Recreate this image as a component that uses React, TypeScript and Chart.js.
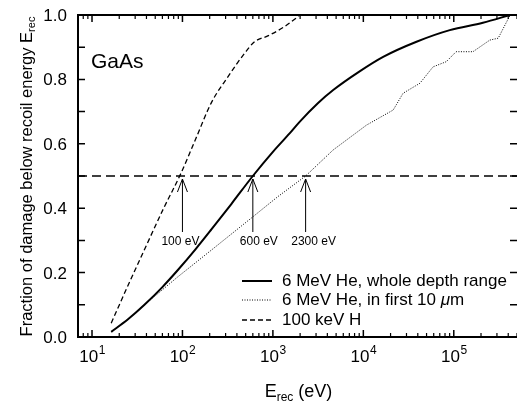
import React, { useEffect, useRef } from 'react';
import { Chart, registerables } from 'chart.js';

Chart.register(...registerables);

// 100 keV H
const hEnergy = [16.3, 25, 40, 62, 95, 140, 209, 318, 486, 627, 878, 1346, 2000];
const hFraction = [0.043, 0.16, 0.285, 0.4, 0.505, 0.615, 0.728, 0.808, 0.881, 0.917, 0.935, 0.964, 1.0];

// 6 MeV He, whole depth range
const heWholeEnergy = [16.3, 25, 38, 60, 89, 140, 209, 347, 600, 1000, 1540, 1986, 3140, 4643, 9100, 16560, 38700, 90300, 210000, 420000];
const heWholeFraction = [0.016, 0.055, 0.1, 0.155, 0.208, 0.273, 0.334, 0.413, 0.5, 0.575, 0.633, 0.669, 0.726, 0.767, 0.825, 0.87, 0.917, 0.953, 0.976, 1.0];

// 6 MeV He, in first 10 um
const heSurfEnergy = [16.3, 25, 38, 89, 209, 575, 1135, 2300, 4643, 10830, 21400, 27500, 42200, 59000, 82600, 106000, 163000, 250000, 310000, 420000];
const heSurfFraction = [0.016, 0.055, 0.1, 0.187, 0.27, 0.369, 0.436, 0.5, 0.581, 0.658, 0.705, 0.757, 0.788, 0.839, 0.855, 0.886, 0.886, 0.922, 0.928, 1.0];

const refLineEnergy = [7, 500000];
const refLineFraction = [0.5, 0.5];

const xMin = 7;
const xMax = 500000;
const xTickValues = [10, 100, 1000, 10000, 100000];
const xTickExponents = ['1', '2', '3', '4', '5'];
const yTickValues = [0, 0.2, 0.4, 0.6, 0.8, 1.0];
const yTickLabels = ['0.0', '0.2', '0.4', '0.6', '0.8', '1.0'];
const yMinorValues = [0, 0.1, 0.2, 0.3, 0.4, 0.5, 0.6, 0.7, 0.8, 0.9, 1.0];

const arrowEnergies = [100, 600, 2300];
const arrowLabels = ['100 eV', '600 eV', '2300 eV'];
const arrowLabelOffsets = [-2, 6, 8];

const legendLabels = ['6 MeV He, whole depth range', '6 MeV He, in first 10 ', '100 keV H'];

const FONT = '"Liberation Sans", Arial, Helvetica, sans-serif';

const toPoints = (xs: number[], ys: number[]) => xs.map((x, i) => ({ x, y: ys[i] }));

const overlay = {
  id: 'overlay',
  afterDatasetsDraw(chart: any) {
    const ctx = chart.ctx as CanvasRenderingContext2D;
    const xs = chart.scales.x;
    const ys = chart.scales.y;
    const { left, top, bottom } = chart.chartArea;
    const right = chart.chartArea.right;
    ctx.save();
    ctx.strokeStyle = '#000';
    ctx.fillStyle = '#000';

    // frame
    ctx.lineWidth = 2;
    ctx.beginPath();
    ctx.moveTo(right + 3, top);
    ctx.lineTo(left, top);
    ctx.lineTo(left, bottom);
    ctx.lineTo(right + 3, bottom);
    ctx.stroke();

    // y ticks (inward, both sides)
    ctx.lineWidth = 1.5;
    for (const v of yMinorValues) {
      const y = ys.getPixelForValue(v);
      ctx.beginPath();
      ctx.moveTo(left, y);
      ctx.lineTo(left + 7, y);
      ctx.moveTo(right, y);
      ctx.lineTo(right - 7, y);
      ctx.stroke();
    }

    // x ticks (log, inward, top and bottom)
    for (let d = 0; d <= 6; d++) {
      for (let m = 1; m <= 9; m++) {
        const v = m * Math.pow(10, d);
        if (v < xMin || v > xMax) continue;
        const x = xs.getPixelForValue(v);
        const len = m === 1 ? 7 : 4;
        ctx.lineWidth = m === 1 ? 1.5 : 1.2;
        ctx.beginPath();
        ctx.moveTo(x, bottom);
        ctx.lineTo(x, bottom - len);
        ctx.moveTo(x, top);
        ctx.lineTo(x, top + len);
        ctx.stroke();
      }
    }

    // y tick labels
    ctx.font = `17px ${FONT}`;
    ctx.textAlign = 'right';
    ctx.textBaseline = 'alphabetic';
    yTickValues.forEach((v, i) => {
      const y = ys.getPixelForValue(v);
      ctx.fillText(yTickLabels[i], 67, y + 6);
    });

    // x tick labels 10^n
    ctx.textAlign = 'left';
    xTickValues.forEach((v, i) => {
      const x = xs.getPixelForValue(v);
      ctx.font = `17px ${FONT}`;
      const wb = ctx.measureText('10').width;
      ctx.font = `12px ${FONT}`;
      const we = ctx.measureText(xTickExponents[i]).width;
      const start = x - (wb + we) / 2;
      ctx.font = `17px ${FONT}`;
      ctx.fillText('10', start, 362);
      ctx.font = `12px ${FONT}`;
      ctx.fillText(xTickExponents[i], start + wb + 0.5, 354);
    });

    // x title
    {
      ctx.font = `18px ${FONT}`;
      const wE = ctx.measureText('E').width;
      const wRest = ctx.measureText(' (eV)').width;
      ctx.font = `12px ${FONT}`;
      const wSub = ctx.measureText('rec').width;
      const total = wE + wSub + wRest;
      const cx = (left + right) / 2 + 1;
      let sx = cx - total / 2;
      ctx.font = `18px ${FONT}`;
      ctx.fillText('E', sx, 397);
      sx += wE;
      ctx.font = `12px ${FONT}`;
      ctx.fillText('rec', sx, 401);
      sx += wSub;
      ctx.font = `18px ${FONT}`;
      ctx.fillText(' (eV)', sx, 397);
    }

    // y title
    {
      ctx.save();
      ctx.translate(32, 176.5);
      ctx.rotate(-Math.PI / 2);
      const main = 'Fraction of damage below recoil energy E';
      ctx.font = `16.5px ${FONT}`;
      const wm = ctx.measureText(main).width;
      ctx.font = `11px ${FONT}`;
      const ws = ctx.measureText('rec').width;
      const total = wm + ws;
      ctx.font = `16.5px ${FONT}`;
      ctx.fillText(main, -total / 2, 0);
      ctx.font = `11px ${FONT}`;
      ctx.fillText('rec', -total / 2 + wm, 3);
      ctx.restore();
    }

    // GaAs label
    ctx.font = `21px ${FONT}`;
    ctx.textAlign = 'left';
    ctx.fillText('GaAs', 91, 68);

    // arrows
    const yHalf = ys.getPixelForValue(0.5);
    ctx.lineWidth = 1;
    arrowEnergies.forEach((e, i) => {
      const x = xs.getPixelForValue(e);
      const tip = yHalf + 3;
      ctx.beginPath();
      ctx.moveTo(x, 232);
      ctx.lineTo(x, tip);
      ctx.moveTo(x - 5, tip + 13);
      ctx.lineTo(x, tip);
      ctx.lineTo(x + 5, tip + 13);
      ctx.stroke();
      ctx.font = `12px ${FONT}`;
      ctx.textAlign = 'center';
      ctx.fillText(arrowLabels[i], x + arrowLabelOffsets[i], 245);
    });

    // legend
    const rows = [281, 300, 320];
    const styles: { dash: number[]; width: number }[] = [
      { dash: [], width: 2 },
      { dash: [1, 1.5], width: 1 },
      { dash: [5, 3], width: 1.3 },
    ];
    rows.forEach((ry, i) => {
      ctx.save();
      ctx.setLineDash(styles[i].dash);
      ctx.lineWidth = styles[i].width;
      ctx.beginPath();
      ctx.moveTo(242, ry);
      ctx.lineTo(272, ry);
      ctx.stroke();
      ctx.restore();
      ctx.font = `17px ${FONT}`;
      ctx.textAlign = 'left';
      ctx.textBaseline = 'middle';
      ctx.fillText(legendLabels[i], 282, ry);
      if (i === 1) {
        const w = ctx.measureText(legendLabels[i]).width;
        ctx.font = `italic 17px ${FONT}`;
        ctx.fillText('\u03bc', 282 + w, ry);
        const wm = ctx.measureText('\u03bc').width;
        ctx.font = `17px ${FONT}`;
        ctx.fillText('m', 282 + w + wm, ry);
      }
      ctx.textBaseline = 'alphabetic';
    });

    ctx.restore();
  },
};

export default function App() {
  const ref = useRef<HTMLCanvasElement>(null);
  useEffect(() => {
    document.body.style.margin = '0';
    const canvas = ref.current;
    if (!canvas) return;
    const chart = new Chart(canvas, {
      type: 'line',
      data: {
        datasets: [
          {
            label: '0.5 level',
            data: toPoints(refLineEnergy, refLineFraction),
            borderColor: '#000',
            borderWidth: 1.5,
            borderDash: [9, 5],
            pointRadius: 0,
          },
          {
            label: '100 keV H',
            data: toPoints(hEnergy, hFraction),
            borderColor: '#000',
            borderWidth: 1.3,
            borderDash: [5, 3],
            pointRadius: 0,
            cubicInterpolationMode: 'monotone',
          },
          {
            label: '6 MeV He, in first 10 um',
            data: toPoints(heSurfEnergy, heSurfFraction),
            borderColor: '#000',
            borderWidth: 1,
            borderDash: [1, 1.5],
            pointRadius: 0,
          },
          {
            label: '6 MeV He, whole depth range',
            data: toPoints(heWholeEnergy, heWholeFraction),
            borderColor: '#000',
            borderWidth: 2,
            pointRadius: 0,
            cubicInterpolationMode: 'monotone',
          },
        ],
      },
      options: {
        responsive: false,
        animation: false,
        parsing: true,
        layout: { padding: { left: 78, top: 15, right: 0, bottom: 68 } },
        scales: {
          x: { type: 'logarithmic', min: xMin, max: xMax, display: false },
          y: { type: 'linear', min: 0, max: 1, display: false },
        },
        plugins: {
          legend: { display: false },
          tooltip: { enabled: false },
        },
        elements: { point: { radius: 0 } },
      } as any,
      plugins: [overlay],
    });
    return () => chart.destroy();
  }, []);
  return <canvas ref={ref} width={517} height={405} style={{ display: 'block' }} />;
}
